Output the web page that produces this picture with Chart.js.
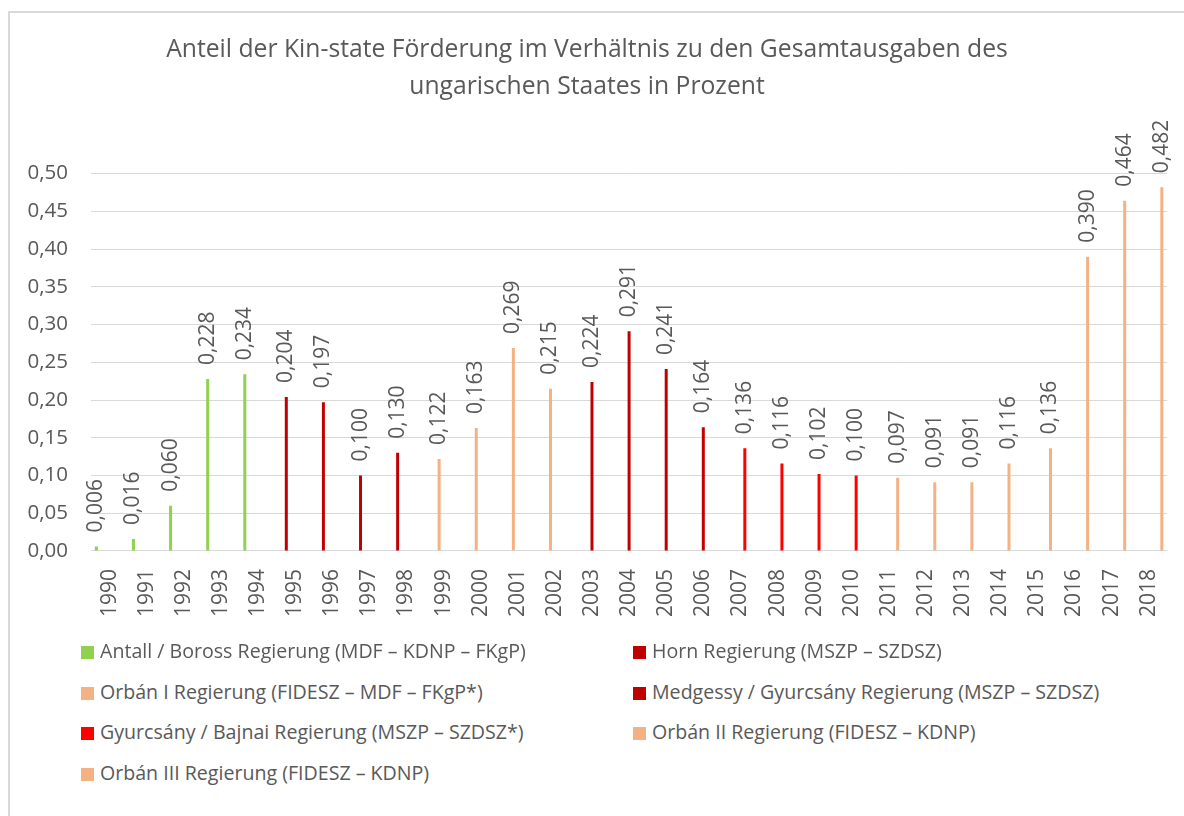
<!DOCTYPE html>
<html lang="de">
<head>
<meta charset="utf-8">
<title>Kin-state Förderung</title>
<script src="https://cdn.jsdelivr.net/npm/chart.js@4"></script>
<style>
	html, body { margin: 0; padding: 0; background: #fff; overflow: hidden; }
	body { width: 1184px; height: 816px; position: relative; font-family: "Open Sans", sans-serif; }
	.cadre { position: absolute; left: 8px; top: 11px; width: 1300px; height: 900px;
		border-left: 2px solid #d9d9d9; border-top: 2px solid #d9d9d9; }
	#graphique { position: absolute; left: 0; top: 0; }
	.legende { position: absolute; left: 0; top: 0; }
	.legende div { position: absolute; height: 40px; line-height: 40px; white-space: nowrap;
		font-size: 19.6px; color: #595959; }
	.legende span { display: inline-block; width: 13px; height: 13px; margin-right: 6px; vertical-align: -1px; }
</style>
</head>
<body>
<div class="cadre"></div>
<canvas id="graphique" width="1184" height="633"></canvas>
<div class="legende" id="legende"></div>
<script>
const annees = [
	"1990", "1991", "1992", "1993", "1994", "1995", "1996", "1997", "1998", "1999",
	"2000", "2001", "2002", "2003", "2004", "2005", "2006", "2007", "2008", "2009",
	"2010", "2011", "2012", "2013", "2014", "2015", "2016", "2017", "2018"
];
const valeurs = [
	0.006, 0.016, 0.060, 0.228, 0.234, 0.204, 0.197, 0.100, 0.130, 0.122,
	0.163, 0.269, 0.215, 0.224, 0.291, 0.241, 0.164, 0.136, 0.116, 0.102,
	0.100, 0.097, 0.091, 0.091, 0.116, 0.136, 0.390, 0.464, 0.482
];
// quelle Regierung pour chaque année (index dans regierungen)
const regierungParAnnee = [
	0, 0, 0, 0, 0, 1, 1, 1, 1, 2,
	2, 2, 2, 3, 3, 3, 3, 4, 4, 4,
	4, 5, 5, 5, 5, 6, 6, 6, 6
];
const regierungen = [
	"Antall / Boross Regierung (MDF – KDNP – FKgP)",
	"Horn Regierung (MSZP – SZDSZ)",
	"Orbán I Regierung (FIDESZ – MDF – FKgP*)",
	"Medgessy / Gyurcsány Regierung (MSZP – SZDSZ)",
	"Gyurcsány / Bajnai Regierung (MSZP – SZDSZ*)",
	"Orbán II Regierung (FIDESZ – KDNP)",
	"Orbán III Regierung (FIDESZ – KDNP)"
];
const couleurs = ["#92D050", "#C00000", "#F4B183", "#C00000", "#FF0000", "#F4B183", "#F4B183"];
const titre = [
	"Anteil der Kin-state Förderung im Verhältnis zu den Gesamtausgaben des",
	"ungarischen Staates in Prozent"
];

const police = "'Open Sans', sans-serif";
const gris = "#595959";

function virgule(v, n) {
	return v.toFixed(n).replace(".", ",");
}

// étiquettes verticales au-dessus des barres
const etiquettesBarres = {
	id: "etiquettesBarres",
	afterDatasetsDraw(chart) {
		const ctx = chart.ctx;
		ctx.save();
		ctx.font = "21px " + police;
		ctx.fillStyle = gris;
		ctx.textAlign = "left";
		ctx.textBaseline = "middle";
		chart.data.datasets.forEach((ds, i) => {
			const meta = chart.getDatasetMeta(i);
			meta.data.forEach((barre, j) => {
				const v = ds.data[j];
				if (v === null) return;
				ctx.save();
				ctx.translate(barre.x, barre.y - 14);
				ctx.rotate(-Math.PI / 2);
				ctx.fillText(virgule(v, 3), 0, 0);
				ctx.restore();
			});
		});
		ctx.restore();
	}
};

const datasets = [];
for (let k = 0; k < regierungen.length; k++) {
	datasets.push({
		label: regierungen[k],
		data: valeurs.map((v, i) => (regierungParAnnee[i] === k ? v : null)),
		backgroundColor: couleurs[k],
		categoryPercentage: 0.83,
		barPercentage: 0.68,
	});
}

const config = {
	type: "bar",
	data: { labels: annees, datasets: datasets },
	options: {
		responsive: false,
		animation: false,
		devicePixelRatio: 1,
		layout: { padding: { left: 0, right: 10, top: 0, bottom: 6 } },
		plugins: {
			legend: { display: false },
			tooltip: { enabled: false },
			title: {
				display: true,
				text: titre,
				color: gris,
				font: { family: police, size: 24.7, weight: "normal", lineHeight: 1.47 },
				padding: { top: 32, bottom: 69 },
			},
		},
		scales: {
			x: {
				grid: { display: false },
				border: { display: false },
				ticks: {
					color: gris,
					font: { family: police, size: 21 },
					minRotation: 90,
					maxRotation: 90,
					padding: 10,
					autoSkip: false,
				},
			},
			y: {
				min: 0,
				max: 0.5,
				afterFit: (s) => { s.width = 91; },
				grid: { color: "#d9d9d9", drawTicks: false },
				border: { display: false },
				ticks: {
					stepSize: 0.05,
					color: gris,
					font: { family: police, size: 20.5 },
					padding: 23,
					callback: (v) => virgule(v, 2),
				},
			},
		},
	},
	plugins: [etiquettesBarres],
};

const graphique = new Chart(document.querySelector("#graphique"), config);

// légende en deux colonnes, dans l'ordre des séries
const legende = document.querySelector("#legende");
const colonnesX = [81, 633];
for (let k = 0; k < regierungen.length; k++) {
	const item = document.createElement("div");
	item.style.left = colonnesX[k % 2] + "px";
	item.style.top = (631 + Math.floor(k / 2) * 40.7) + "px";
	item.innerHTML = `<span style="background:${couleurs[k]}"></span>${regierungen[k]}`;
	legende.appendChild(item);
}
</script>
</body>
</html>
